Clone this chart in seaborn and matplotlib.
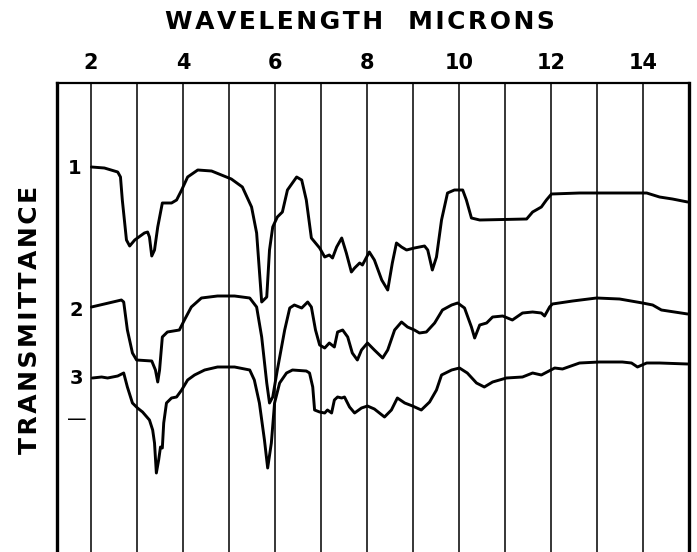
import matplotlib
matplotlib.use("Agg")
import matplotlib.pyplot as plt
import seaborn as sns
import pandas as pd

# ---- data (wavelength in microns, transmittance in arbitrary chart units) ----
wl_1 = [2.01, 2.29, 2.58, 2.64, 2.68, 2.77, 2.84, 2.95, 3.16, 3.23, 3.27, 3.32, 3.38, 3.45, 3.55,
        3.75, 3.86, 3.97, 4.10, 4.32, 4.62, 5.05, 5.29, 5.49, 5.60, 5.71, 5.82, 5.88, 5.95, 6.05,
        6.16, 6.27, 6.47, 6.58, 6.68, 6.79, 6.97, 7.08, 7.18, 7.25, 7.34, 7.45, 7.55, 7.66, 7.73,
        7.84, 7.90, 8.05, 8.16, 8.32, 8.45, 8.55, 8.64, 8.75, 8.86, 9.03, 9.25, 9.32, 9.42, 9.51,
        9.62, 9.75, 9.90, 10.08, 10.16, 10.27, 10.45, 11.47, 11.60, 11.79, 11.90, 12.01, 12.62,
        13.49, 14.08, 14.36, 14.64, 14.97]
tr_1 = [385, 384, 380, 375, 352, 312, 306, 312, 319, 320, 315, 296, 302, 325, 349,
        349, 352, 362, 375, 382, 381, 373, 365, 345, 319, 250, 255, 302, 325, 335,
        340, 362, 375, 372, 352, 314, 304, 295, 297, 294, 305, 314, 299, 280, 284,
        289, 287, 300, 292, 272, 262, 289, 309, 305, 302, 304, 306, 302, 282, 295,
        332, 359, 362, 362, 352, 334, 332, 333, 340, 345, 352, 358, 359,
        359, 359, 355, 353, 350]

wl_2 = [2.01, 2.29, 2.66, 2.71, 2.79, 2.90, 2.99, 3.32, 3.40, 3.45, 3.49, 3.55, 3.66, 3.92, 4.03,
        4.18, 4.40, 4.75, 5.12, 5.45, 5.60, 5.71, 5.82, 5.88, 5.95, 6.05, 6.21, 6.32, 6.42, 6.58,
        6.71, 6.79, 6.88, 6.97, 7.08, 7.18, 7.29, 7.36, 7.47, 7.58, 7.68, 7.79, 7.88, 8.01, 8.16,
        8.34, 8.45, 8.60, 8.75, 8.88, 9.03, 9.14, 9.29, 9.47, 9.64, 9.84, 9.97, 10.12, 10.27,
        10.34, 10.45, 10.60, 10.73, 10.95, 11.16, 11.38, 11.60, 11.79, 11.86, 11.97, 12.03,
        12.47, 12.99, 13.49, 13.99, 14.21, 14.40, 14.97]
tr_2 = [245, 248, 252, 250, 222, 199, 192, 191, 182, 170, 182, 215, 220, 222, 232,
        245, 254, 256, 256, 254, 245, 215, 169, 149, 155, 182, 222, 244, 247, 244,
        250, 245, 222, 207, 204, 209, 205, 220, 222, 215, 199, 192, 202, 209, 202,
        194, 202, 222, 230, 225, 222, 219, 220, 229, 242, 247, 249, 244, 225,
        214, 227, 229, 235, 236, 232, 239, 240, 239, 236, 245, 248,
        251, 254, 253, 249, 247, 242, 238]

wl_3 = [2.03, 2.23, 2.36, 2.58, 2.71, 2.79, 2.90, 3.01, 3.12, 3.27, 3.34, 3.38, 3.42, 3.47, 3.51,
        3.55, 3.58, 3.64, 3.75, 3.86, 3.97, 4.10, 4.25, 4.47, 4.75, 5.12, 5.45, 5.55, 5.66, 5.77,
        5.84, 5.92, 5.99, 6.10, 6.25, 6.38, 6.68, 6.75, 6.82, 6.86, 6.97, 7.08, 7.14, 7.23, 7.29,
        7.36, 7.45, 7.51, 7.62, 7.73, 7.88, 8.01, 8.16, 8.38, 8.53, 8.66, 8.82, 8.99, 9.18, 9.36,
        9.51, 9.62, 9.84, 10.01, 10.18, 10.38, 10.55, 10.73, 11.03, 11.38, 11.60, 11.79, 12.08,
        12.25, 12.62, 13.05, 13.55, 13.75, 13.88, 14.08, 14.36, 14.97]
tr_3 = [174, 175, 174, 176, 179, 165, 149, 144, 140, 132, 122, 109, 79, 92, 105,
        104, 129, 149, 154, 155, 162, 172, 177, 182, 185, 185, 182, 172, 149, 112,
        84, 109, 149, 169, 179, 182, 181, 179, 165, 142, 140, 139, 142, 139, 152,
        155, 154, 155, 145, 139, 144, 146, 143, 135, 142, 154, 149, 146, 142, 150,
        162, 177, 182, 184, 179, 169, 165, 170, 174, 175, 179, 177, 184,
        183, 189, 190, 190, 189, 185, 189, 189, 188]

tick_values = [2, 4, 6, 8, 10, 12, 14]
tick_labels = ["2", "4", "6", "8", "10", "12", "14"]
grid_values = list(range(2, 15))
curve_names = ["1", "2", "3"]
curve_label_pos = [(1.64, 384), (1.68, 242), (1.68, 174)]
dash_pos = (1.70, 133)
title_text = "WAVELENGTH  MICRONS"
ylabel_text = "TRANSMITTANCE"


def spaced(s, sp="\u200a"):
    return sp.join(list(s))


# ---- build long table ----
frames = []
for name, wl, tr in zip(curve_names, [wl_1, wl_2, wl_3], [tr_1, tr_2, tr_3]):
    frames.append(pd.DataFrame({"wavelength": wl, "transmittance": tr, "curve": name}))
df = pd.concat(frames, ignore_index=True)

sns.set_style("white")
plt.rcParams["font.family"] = ["DejaVu Sans"]
plt.rcParams["text.color"] = "black"
plt.rcParams["xtick.color"] = "black"
plt.rcParams["axes.labelcolor"] = "black"

W, H = 697, 552
fig = plt.figure(figsize=(W / 100, H / 100), dpi=100)
ax = fig.add_axes([57 / W, 0, (689 - 57) / W, (H - 83) / H])

sns.lineplot(data=df, x="wavelength", y="transmittance", units="curve", estimator=None,
             sort=False, color="black", linewidth=2.1, ax=ax, legend=False)

ax.set_xlim(1.26, 15.0)
ax.set_ylim(0, 469)

for g in grid_values:
    ax.axvline(g, color="black", linewidth=1.1, zorder=0)

ax.xaxis.tick_top()
ax.set_xticks(tick_values)
ax.set_xticklabels(tick_labels, fontsize=15, fontweight="bold", color="black")
ax.tick_params(axis="x", length=0, pad=7)
ax.set_yticks([])
ax.set_xlabel("")
ax.set_ylabel("")

ax.spines["bottom"].set_visible(False)
ax.spines["left"].set_linewidth(2.4)
ax.spines["right"].set_linewidth(2.4)
ax.spines["top"].set_linewidth(1.6)
for s in ["left", "right", "top"]:
    ax.spines[s].set_color("black")

for name, (x, y) in zip(curve_names, curve_label_pos):
    ax.text(x, y, name, fontsize=14, fontweight="bold", ha="center", va="center", color="black")
ax.text(dash_pos[0], dash_pos[1], "\u2014", fontsize=14, ha="center", va="center", color="black")

fig.text(360 / W, 1 - 22 / H, spaced(title_text), fontsize=18, fontweight="bold",
         ha="center", va="center", color="black")
fig.text(30 / W, 1 - 320 / H, spaced(ylabel_text), fontsize=18, fontweight="bold",
         rotation=90, ha="center", va="center", color="black")

fig.savefig("out.png", dpi=100)
